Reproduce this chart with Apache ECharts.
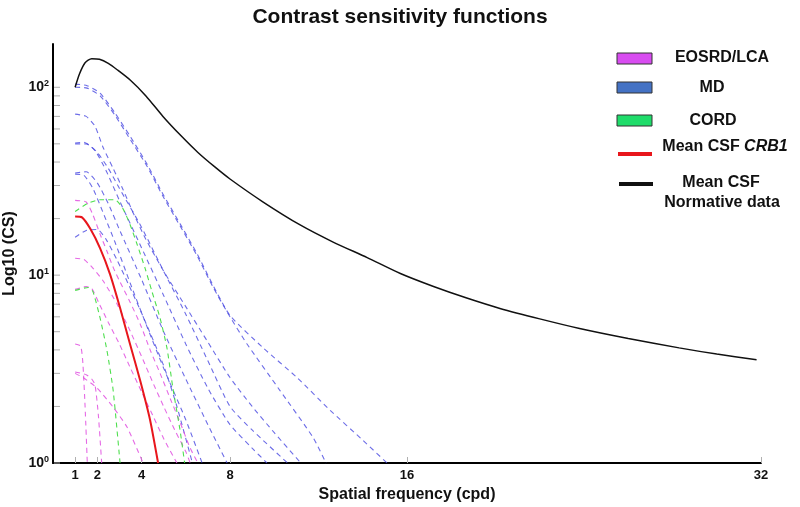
<!DOCTYPE html>
<html><head><meta charset="utf-8">
<script src="https://cdn.jsdelivr.net/npm/echarts@6/dist/echarts.min.js"></script>
<style>html,body{margin:0;padding:0;background:#fff}#c{width:800px;height:507px}</style>
</head><body><div id="c"></div>
<script>
// ---- tick values ----
const xTicks = [1, 2, 4, 8, 16, 32];
const yTickValues = [1,2,3,4,5,6,7,8,9,10,20,30,40,50,60,70,80,90,100];

// ---- Mean CSF normative data ----
const normative = [[1,100],[1.2,118],[1.45,135],[1.75,142],[2.1,141],[2.5,134],[2.9,124],[3.5,109],[4.2,90],[4.97,70],[5.8,55],[6.55,45],[7.3,37.8],[8.0,32.5],[9.5,24.5],[11.17,18.5],[12.66,15],[14.2,12.4],[15.7,10.2],[17.2,8.7],[18.7,7.55],[20.2,6.65],[22,5.85],[23.8,5.2],[26,4.6],[28.3,4.1],[30,3.8],[31.8,3.55]];

// ---- Mean CSF CRB1 ----
const crb1Mean = [[1,20.5],[1.31,20.3],[1.68,17.7],[2.13,13.9],[2.58,10.1],[3.03,6.7],[3.48,4.3],[3.94,2.75],[4.39,1.69],[4.75,1.0]];

// ---- MD patients ----
const md1 = [[1,104],[1.54,102],[2.13,93],[2.8,73],[3.48,55],[4.25,39],[4.97,27],[5.74,18.8],[6.51,13],[7.24,8.8],[8.0,6.1],[9.5,4.1],[11.03,2.85],[12.52,1.91],[14.01,1.32],[15.1,1.0]];
const md2 = [[1,100],[1.54,99],[2.13,90],[2.8,71],[3.48,53],[4.25,38],[4.97,26.3],[5.74,18.3],[6.51,12.7],[7.24,8.6],[8.0,6.0],[8.77,4.3],[10.26,2.43],[11.75,1.37],[12.34,1.0]];
const md3 = [[1,72],[1.5,70],[1.9,62],[2.26,48],[2.72,37],[3.17,28.5],[3.62,21.5],[4.2,15.5],[5,10.5],[6,6.8],[7,4.4],[8,2.85],[9,2.0],[10,1.45],[11.2,1.0]];
const md4 = [[1,50],[1.5,50],[2,45],[2.5,37],[3,29],[4,18],[5,10.5],[6,6.2],[7,3.5],[8,2.0],[9,1.5],[10.6,1.0]];
const md5 = [[1,50.5],[1.4,51],[1.9,46],[2.4,36],[3,25],[4,14],[5,7.8],[6,4.3],[7,2.5],[8,1.6],[9,1.2],[9.67,1.0]];
const md6 = [[1,35],[1.5,35.5],[2,31],[2.5,24],[3,17.5],[4,9.5],[5,5],[6,2.8],[7,1.6],[7.87,1.0]];
const md7 = [[1,34.5],[1.4,34],[1.8,29],[2.3,21],[2.8,15],[3.5,9],[4.2,5.5],[5,3.2],[6,1.7],[6.74,1.0]];
const md8 = [[1,15.9],[1.5,17.3],[2,17.5],[2.4,15.5],[2.9,12],[3.4,9],[4,6.3],[5,3.3],[5.6,2.0],[6.3,1.0]];

// ---- EOSRD/LCA patients ----
const eo1 = [[1,25],[1.5,24.5],[1.8,21],[2.13,16.5],[2.44,13.4],[2.72,11],[3.03,9.2],[3.48,7.2],[3.94,5.5],[4.39,4.0],[4.84,3.0],[5.3,2.2],[5.74,1.65],[6.2,1.2],[6.55,1.0]];
const eo2 = [[1,12.3],[1.4,12.1],[1.8,10.9],[2.27,9.3],[2.9,7.0],[3.5,5.0],[4,3.7],[4.5,2.7],[5,2.0],[5.5,1.5],[6.0,1.15],[6.2,1.0]];
const eo3 = [[1,8.4],[1.5,8.7],[1.75,8.5],[2.1,7.0],[2.5,5.6],[3,4.3],[3.5,3.2],[4,2.4],[4.5,1.8],[5,1.35],[5.6,1.0]];
const eo4 = [[1,4.3],[1.25,4.2],[1.35,3.4],[1.45,2.0],[1.55,1.0]];
const eo5 = [[1,3.0],[1.36,2.85],[2.0,2.5],[2.72,1.98],[3.35,1.55],[4.07,1.0]];
const eo6 = [[1,3.05],[1.5,2.95],[1.75,2.8],[1.9,2.6],[2.05,1.8],[2.2,1.0]];

// ---- CORD patients ----
const cord1 = [[1,21.8],[1.54,24.0],[2.13,25.2],[2.8,25.2],[3.16,22.6],[3.48,18.6],[3.8,14.6],[4.16,10.9],[4.47,8.2],[4.84,5.9],[5.15,4.1],[5.42,2.5],[5.74,1.5],[5.95,1.0]];
const cord2 = [[1,8.3],[1.59,8.6],[1.8,8.2],[2.13,5.9],[2.44,3.96],[2.72,2.43],[3.03,1.0]];

const FONT = '"Liberation Sans", Arial, Helvetica, sans-serif';
const BLUE = 'rgba(72,72,225,0.8)';
const MAGENTA = 'rgba(225,80,225,0.85)';
const GREEN = 'rgba(60,220,60,0.9)';

function dashed(name, data, color) {
  return { name, type: 'line', data, symbol: 'none', smooth: 0.2, clip: true, silent: true,
    lineStyle: { type: [5, 4], width: 1.1, color }, z: 2 };
}

const series = [
  dashed('md1', md1, BLUE), dashed('md2', md2, BLUE), dashed('md3', md3, BLUE), dashed('md4', md4, BLUE),
  dashed('md5', md5, BLUE), dashed('md6', md6, BLUE), dashed('md7', md7, BLUE), dashed('md8', md8, BLUE),
  dashed('eo1', eo1, MAGENTA), dashed('eo2', eo2, MAGENTA), dashed('eo3', eo3, MAGENTA),
  dashed('eo4', eo4, MAGENTA), dashed('eo5', eo5, MAGENTA), dashed('eo6', eo6, MAGENTA),
  dashed('cord1', cord1, GREEN), dashed('cord2', cord2, GREEN),
  { name: 'Mean CSF CRB1', type: 'line', data: crb1Mean, symbol: 'none', smooth: 0.2, clip: true, silent: true,
    lineStyle: { color: '#e8161c', width: 2 }, z: 4 },
  { name: 'Mean CSF Normative data', type: 'line', data: normative, symbol: 'none', smooth: 0.25, clip: true, silent: true,
    lineStyle: { color: '#111', width: 1.5 }, z: 4 },
  { name: 'yticks', type: 'custom', silent: true, clip: false, z: 5,
    data: yTickValues.map(v => [0, v]),
    encode: { x: 0, y: 1 },
    renderItem: function (params, api) {
      const p = api.coord([0, api.value(1)]);
      return { type: 'line', shape: { x1: p[0] + 1, y1: p[1], x2: p[0] + 7, y2: p[1] },
        style: { stroke: '#b0b0b0', lineWidth: 1 } };
    } }
];

const chart = echarts.init(document.getElementById('c'), null, { renderer: 'canvas' });
chart.setOption({
  animation: false,
  backgroundColor: '#fff',
  title: { text: 'Contrast sensitivity functions', left: 'center', top: 2,
    textStyle: { fontFamily: FONT, fontWeight: 'bold', fontSize: 21, color: '#111' } },
  grid: { left: 53, right: 39, top: 44, bottom: 44, containLabel: false, outerBoundsMode: 'none' },
  xAxis: {
    type: 'value', min: 0, max: 32,
    name: 'Spatial frequency (cpd)', nameLocation: 'middle', nameGap: 24,
    nameTextStyle: { fontFamily: FONT, fontWeight: 'bold', fontSize: 16, color: '#111' },
    axisLine: { onZero: false, lineStyle: { color: '#000', width: 2 } },
    axisTick: { show: true, inside: true, length: 6, customValues: xTicks, lineStyle: { color: '#b0b0b0' } },
    axisLabel: { customValues: xTicks, margin: 6, fontFamily: FONT, fontWeight: 'bold', fontSize: 13, color: '#111' },
    splitLine: { show: false }
  },
  yAxis: {
    type: 'log', logBase: 10, min: 1, max: 170,
    name: 'Log10 (CS)', nameLocation: 'middle', nameGap: 26, nameRotate: 90,
    nameTextStyle: { fontFamily: FONT, fontWeight: 'bold', fontSize: 16, color: '#111' },
    axisLine: { onZero: false, lineStyle: { color: '#000', width: 2 } },
    axisTick: { show: false },
    minorTick: { show: false },
    splitLine: { show: false },
    axisLabel: {
      margin: 4, color: '#111',
      formatter: function (v) {
        const l = Math.log10(v), e = Math.round(l);
        if (Math.abs(l - e) > 1e-6) return '';
        return '{b|10}{s|' + e + '}';
      },
      rich: {
        b: { fontFamily: FONT, fontWeight: 'bold', fontSize: 14, lineHeight: 16, color: '#111' },
        s: { fontFamily: FONT, fontWeight: 'bold', fontSize: 9, lineHeight: 10, verticalAlign: 'top', color: '#111' }
      }
    }
  },
  graphic: [
    { type: 'rect', shape: { x: 617, y: 53, width: 35, height: 11 }, style: { fill: '#d84cf0', stroke: '#333', lineWidth: 1 } },
    { type: 'rect', shape: { x: 617, y: 82, width: 35, height: 11 }, style: { fill: '#4472c4', stroke: '#333', lineWidth: 1 } },
    { type: 'rect', shape: { x: 617, y: 115, width: 35, height: 11 }, style: { fill: '#1fdc6a', stroke: '#333', lineWidth: 1 } },
    { type: 'line', shape: { x1: 618, y1: 154, x2: 652, y2: 154 }, style: { stroke: '#e8161c', lineWidth: 4 } },
    { type: 'line', shape: { x1: 619, y1: 184, x2: 653, y2: 184 }, style: { stroke: '#111', lineWidth: 4 } },
    { type: 'text', x: 722, y: 58, style: { text: 'EOSRD/LCA', font: 'bold 16px ' + FONT, fill: '#111', align: 'center', verticalAlign: 'middle' } },
    { type: 'text', x: 712, y: 88, style: { text: 'MD', font: 'bold 16px ' + FONT, fill: '#111', align: 'center', verticalAlign: 'middle' } },
    { type: 'text', x: 713, y: 121, style: { text: 'CORD', font: 'bold 16px ' + FONT, fill: '#111', align: 'center', verticalAlign: 'middle' } },
    { type: 'text', x: 725, y: 147, style: { text: '{a|Mean CSF }{i|CRB1}', align: 'center', verticalAlign: 'middle',
        rich: { a: { font: 'bold 16px ' + FONT, fill: '#111' }, i: { font: 'italic bold 16px ' + FONT, fill: '#111' } } } },
    { type: 'text', x: 721, y: 183, style: { text: 'Mean CSF', font: 'bold 16px ' + FONT, fill: '#111', align: 'center', verticalAlign: 'middle' } },
    { type: 'text', x: 722, y: 203, style: { text: 'Normative data', font: 'bold 16px ' + FONT, fill: '#111', align: 'center', verticalAlign: 'middle' } }
  ],
  series
});
</script></body></html>
